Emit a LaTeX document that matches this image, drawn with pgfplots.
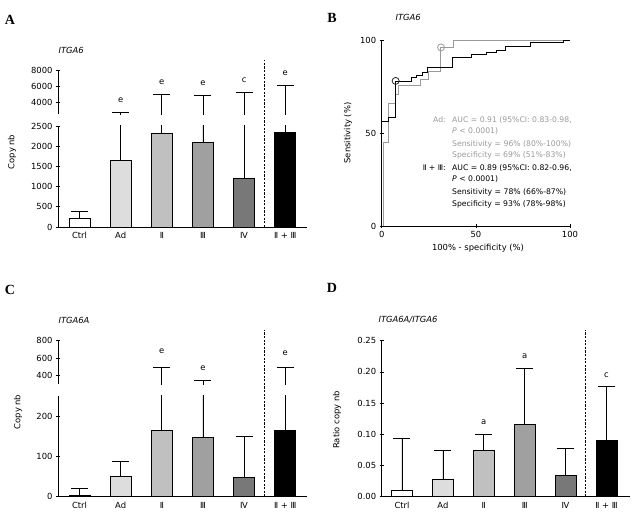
\documentclass[border=0pt]{standalone}
\usepackage{fontspec}
\setmainfont{DejaVu Sans}
\newfontfamily\panelfont{Liberation Serif}
\usepackage{pgfplots}
\pgfplotsset{compat=1.18}

\definecolor{cAd}{HTML}{DCDDDC}
\definecolor{cII}{HTML}{C0C0C0}
\definecolor{cIII}{HTML}{A0A0A0}
\definecolor{cIV}{HTML}{787878}
\definecolor{rocgray}{HTML}{9A9A9A}

\newcommand{\tk}{\fontsize{8.4}{10}\selectfont}
\newcommand{\note}{\fontsize{7.7}{9}\selectfont}
\newcommand{\pl}{\panelfont\bfseries\fontsize{14}{14}\selectfont}

\tikzset{sep/.style={black, line width=0.7pt, dash pattern=on 2.2pt off 1.4pt}}

\pgfplotsset{
  every axis/.append style={
    scale only axis,
    font=\tk,
    /pgf/number format/assume math mode=true,
    /pgf/number format/1000 sep={},
    tick align=outside,
    major tick length=4pt,
    tick style={black, line width=0.7pt},
    clip mode=individual,
  },
  noarrows/.style={x axis line style={-, line width=0.7pt}, y axis line style={-, line width=0.7pt}},
  barpanel/.style={
    width=249pt, xmin=-0.523, xmax=5.528,
    axis y line=left,
    xtick={0,...,5},
    xticklabels={Ctrl,Ad,Ⅱ,Ⅲ,Ⅳ,Ⅱ + Ⅲ},
    x tick style={draw=none},
  },
  lowerpanel/.style={barpanel, axis x line=bottom, noarrows},
  % upper part of a broken axis: only the error bars show there
  upperpanel/.style={barpanel, axis x line=none, xtick=\empty, noarrows,
    every axis plot/.append style={fill opacity=0, draw opacity=0}},
  bar/.style={ybar, bar width=21pt, bar shift=0pt, draw=black, line width=0.7pt,
    error bars/y dir=plus, error bars/y explicit,
    error bars/error bar style={black, line width=0.7pt, draw opacity=1},
    error bars/error mark options={rotate=90, black, mark size=8.5pt, line width=0.7pt, draw opacity=1}},
}

% ITGA6 copy number: mean +- upper error
\newcommand{\barsA}{
  \addplot[bar, fill=white] coordinates {(0,212) +- (0,172)};
  \addplot[bar, fill=cAd]   coordinates {(1,1650) +- (0,1150)};
  \addplot[bar, fill=cII]   coordinates {(2,2320) +- (0,2680)};
  \addplot[bar, fill=cIII]  coordinates {(3,2100) +- (0,2750)};
  \addplot[bar, fill=cIV]   coordinates {(4,1200) +- (0,4100)};
  \addplot[bar, fill=black] coordinates {(5,2350) +- (0,3750)};
}
% ITGA6A copy number
\newcommand{\barsC}{
  \addplot[bar, fill=white] coordinates {(0,3) +- (0,17)};
  \addplot[bar, fill=cAd]   coordinates {(1,50) +- (0,38)};
  \addplot[bar, fill=cII]   coordinates {(2,165) +- (0,335)};
  \addplot[bar, fill=cIII]  coordinates {(3,148) +- (0,197)};
  \addplot[bar, fill=cIV]   coordinates {(4,48) +- (0,102)};
  \addplot[bar, fill=black] coordinates {(5,165) +- (0,335)};
}

\begin{document}
\begin{tikzpicture}
\path[use as bounding box] (0,0) rectangle (637pt,521pt);

%% ---------- A ----------
\begin{axis}[lowerpanel, at={(58pt,294pt)}, anchor=south west, height=101pt,
  ymin=0, ymax=2500, ytick={0,500,...,2500}]
  \barsA
  \draw[sep] (axis cs:4.489,0) -- (axis cs:4.489,4134);
\end{axis}
\begin{axis}[upperpanel, at={(58pt,406.5pt)}, anchor=south west, height=43.8pt,
  ymin=2500, ymax=8000, ytick={4000,6000,8000}]
  \barsA
  \node at (axis cs:1,4321) {e};
  \node at (axis cs:2,6582) {e};
  \node at (axis cs:3,6456) {e};
  \node at (axis cs:4,6833) {c};
  \node at (axis cs:5,7712) {e};
\end{axis}
\node[font=\pl] at (10pt,501pt) {A};
\node[anchor=west, font=\tk\itshape] at (55pt,471pt) {ITGA6};
\node[rotate=90, font=\tk] at (12pt,369pt) {Copy nb};

%% ---------- B ----------
\begin{axis}[at={(381.7pt,295pt)}, anchor=south west, width=188.3pt, height=186pt,
  xmin=0, xmax=100, ymin=0, ymax=100, clip=false,
  axis x line=bottom, axis y line=left, noarrows,
  xtick={0,50,100}, ytick={0,50,100}]
  % Ad
  \addplot[rocgray, line width=0.8pt] coordinates {
    (0.8,0) (0.8,45) (3.7,45) (3.7,66) (7.2,66) (7.2,71) (8.9,71) (8.9,75.5)
    (20.3,75.5) (20.3,78.9) (24.8,78.9) (24.8,83.3) (31,83.3) (31,96)
    (38,96) (38,100) (100,100)};
  % II + III
  \addplot[black, line width=0.8pt] coordinates {
    (0,0) (0,56) (3.7,56) (3.7,58.5) (7.2,58.5) (7.2,78) (15.6,78) (15.6,79.7)
    (18.2,79.7) (18.2,80.8) (21.4,80.8) (21.4,82.4) (24.4,82.4) (24.4,85.1)
    (37.7,85.1) (37.7,90.7) (47.8,90.7) (47.8,92) (55.7,92) (55.7,93.2)
    (61,93.2) (61,94.6) (65.5,94.6) (65.5,96.4) (78.8,96.4) (78.8,98.6)
    (96.5,98.6) (96.5,100) (100,100)};
  % cut-off points
  \addplot[only marks, mark=o, mark size=3.5pt, rocgray, mark options={line width=0.8pt}]
    coordinates {(31.5,96)};
  \addplot[only marks, mark=o, mark size=3.5pt, black!85, mark options={line width=0.8pt}]
    coordinates {(7.4,78)};
\end{axis}
\node[font=\pl] at (332pt,503pt) {B};
\node[anchor=west, font=\tk\itshape] at (392pt,504pt) {ITGA6};
\node[rotate=90, font=\tk] at (348pt,388pt) {Sensitivity (\%)};
\node[font=\tk] at (478pt,273pt) {100\% - specificity (\%)};
\begin{scope}[every node/.style={font=\note, inner sep=0pt}]
  \node[anchor=east, text=rocgray] at (446pt,401pt) {Ad:};
  \node[anchor=west, text=rocgray] at (452pt,401pt) {AUC = 0.91 (95\%CI: 0.83-0.98,};
  \node[anchor=west, text=rocgray] at (452pt,390.3pt) {\textit{P} < 0.0001)};
  \node[anchor=west, text=rocgray] at (452pt,376.7pt) {Sensitivity = 96\% (80\%-100\%)};
  \node[anchor=west, text=rocgray] at (452pt,365.3pt) {Specificity = 69\% (51\%-83\%)};
  \node[anchor=east] at (446pt,353pt) {Ⅱ + Ⅲ:};
  \node[anchor=west] at (452pt,353pt) {AUC = 0.89 (95\%CI: 0.82-0.96,};
  \node[anchor=west] at (452pt,341.7pt) {\textit{P} < 0.0001)};
  \node[anchor=west] at (452pt,328.3pt) {Sensitivity = 78\% (66\%-87\%)};
  \node[anchor=west] at (452pt,317pt) {Specificity = 93\% (78\%-98\%)};
\end{scope}

%% ---------- C ----------
\begin{axis}[lowerpanel, at={(58pt,24.3pt)}, anchor=south west, height=100.7pt,
  ymin=0, ymax=250, ytick={0,100,200}]
  \barsC
  \draw[sep] (axis cs:4.489,0) -- (axis cs:4.489,414);
\end{axis}
\begin{axis}[upperpanel, at={(58pt,136.7pt)}, anchor=south west, height=43.6pt,
  ymin=300, ymax=800, ytick={400,600,800}]
  \barsC
  \node at (axis cs:2,682) {e};
  \node at (axis cs:3,483) {e};
  \node at (axis cs:5,656) {e};
\end{axis}
\node[font=\pl] at (10pt,231pt) {C};
\node[anchor=west, font=\tk\itshape] at (55pt,201pt) {ITGA6A};
\node[rotate=90, font=\tk] at (18pt,109pt) {Copy nb};

%% ---------- D ----------
\begin{axis}[at={(381.7pt,24.3pt)}, anchor=south west, width=248.3pt, height=156pt,
  xmin=-0.496, xmax=5.575, ymin=0, ymax=0.25,
  axis x line=bottom, axis y line=left, noarrows,
  xtick={0,...,5}, xticklabels={Ctrl,Ad,Ⅱ,Ⅲ,Ⅳ,Ⅱ + Ⅲ}, x tick style={draw=none},
  ytick={0,0.05,0.10,0.15,0.20,0.25},
  yticklabel style={/pgf/number format/.cd, fixed, fixed zerofill, precision=2}]
  \addplot[bar, fill=white] coordinates {(0,0.010) +- (0,0.083)};
  \addplot[bar, fill=cAd]   coordinates {(1,0.027) +- (0,0.048)};
  \addplot[bar, fill=cII]   coordinates {(2,0.074) +- (0,0.026)};
  \addplot[bar, fill=cIII]  coordinates {(3,0.116) +- (0,0.090)};
  \addplot[bar, fill=cIV]   coordinates {(4,0.034) +- (0,0.043)};
  \addplot[bar, fill=black] coordinates {(5,0.090) +- (0,0.087)};
  \draw[sep] (axis cs:4.474,0) -- (axis cs:4.474,0.267);
  \node at (axis cs:2,0.120) {a};
  \node at (axis cs:3,0.2255) {a};
  \node at (axis cs:5,0.195) {c};
\end{axis}
\node[font=\pl] at (332pt,233pt) {D};
\node[anchor=west, font=\tk\itshape] at (375pt,201pt) {ITGA6A/ITGA6};
\node[rotate=90, font=\tk] at (337pt,101pt) {Ratio copy nb};
\end{tikzpicture}
\end{document}
